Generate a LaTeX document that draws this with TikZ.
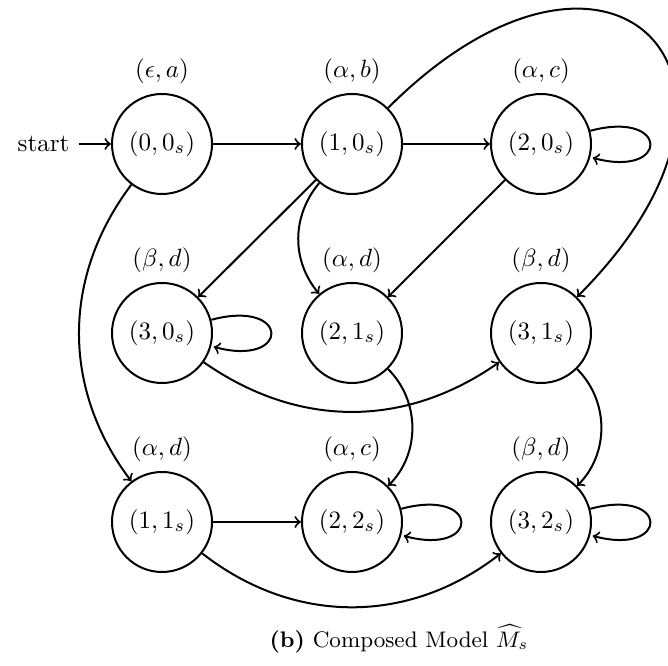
\documentclass[tikz,border=0pt]{standalone}
\usepackage{amsmath}
\usepackage{amssymb}
\usetikzlibrary{automata}

\begin{document}
\begin{tikzpicture}[x=0.4pt,y=0.4pt,thick,
  every state/.style={draw,circle,minimum size=40pt,inner sep=0pt}]
\useasboundingbox (0,0) rectangle (668,666);
\node[state,initial,label=above:{$(\epsilon,a)$}] (s00) at (162,522) {$(0,0_s)$};
\node[state,label=above:{$(\alpha,b)$}] (s10) at (352,522) {$(1,0_s)$};
\node[state,label=above:{$(\alpha,c)$}] (s20) at (541,522) {$(2,0_s)$};
\node[state,label=above:{$(\beta,d)$}] (s30) at (162,333) {$(3,0_s)$};
\node[state,label=above:{$(\alpha,d)$}] (s21) at (352,333) {$(2,1_s)$};
\node[state,label=above:{$(\beta,d)$}] (s31) at (541,333) {$(3,1_s)$};
\node[state,label=above:{$(\alpha,d)$}] (s11) at (162,144) {$(1,1_s)$};
\node[state,label=above:{$(\alpha,c)$}] (s22) at (352,144) {$(2,2_s)$};
\node[state,label=above:{$(\beta,d)$}] (s32) at (541,144) {$(3,2_s)$};
\node[font=\small] (cap) at (399,27) {\textbf{(b)} Composed Model $\widehat{M}_s$};
\path[->] (s00) edge (s10)
      (s00) edge[bend right=37] (s11)
      (s10) edge (s20)
      (s10) edge (s30)
      (s10) edge[bend right=40] (s21)
      (s10) edge[bend left=90,looseness=3] (s31)
      (s20) edge[loop right] ()
      (s20) edge (s21)
      (s30) edge[loop right] ()
      (s30) edge[bend right=35] (s31)
      (s21) edge[bend left=45] (s22)
      (s31) edge[bend left=45] (s32)
      (s11) edge (s22)
      (s11) edge[bend right=38] (s32)
      (s22) edge[loop right] ()
      (s32) edge[loop right] ();
\end{tikzpicture}
\end{document}
